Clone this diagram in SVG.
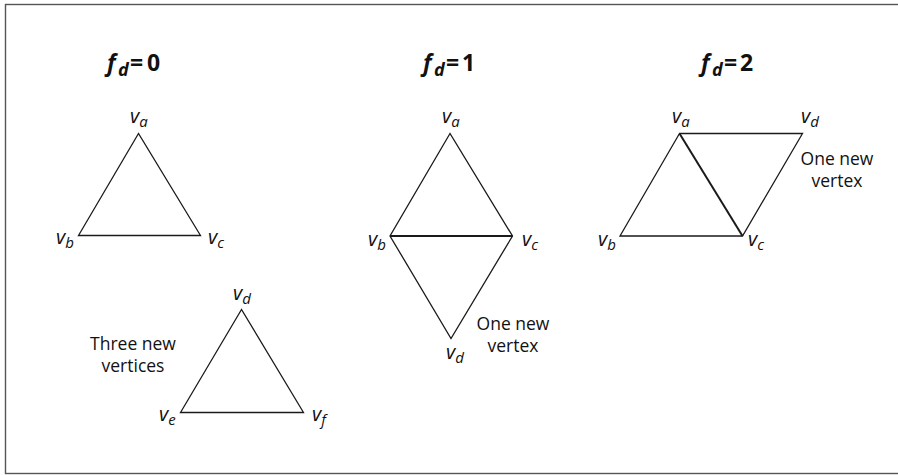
<svg xmlns="http://www.w3.org/2000/svg" width="898" height="475" viewBox="0 0 898 475">
<style>
.edge{fill:none;stroke:#1a1a1a;stroke-width:1.3;stroke-linejoin:miter}
.thick{stroke-width:2}
.title{font-family:"Open Sans","Liberation Sans",sans-serif;font-weight:bold;font-size:23px;fill:#111}
.it{font-style:italic}
.tsub{font-style:italic;font-size:18px}
.v{font-family:"Open Sans","Liberation Sans",sans-serif;font-style:italic;font-size:20px;fill:#111}
.sub{font-size:15px}
.note{font-family:"Open Sans","Liberation Sans",sans-serif;font-size:17.5px;fill:#111;text-anchor:middle}
</style>
<rect x="0" y="0" width="898" height="475" fill="#fff"/>
<rect x="5.5" y="4.5" width="900" height="469" fill="none" stroke="#555" stroke-width="1.4"/>

<g id="titles">
<text class="title" y="71"><tspan class="it" x="107">f</tspan><tspan class="tsub" x="118" dy="5">d</tspan><tspan x="130" dy="-5">=</tspan><tspan x="147">0</tspan></text>
<text class="title" y="71"><tspan class="it" x="423">f</tspan><tspan class="tsub" x="434" dy="5">d</tspan><tspan x="446" dy="-5">=</tspan><tspan x="462">1</tspan></text>
<text class="title" y="71"><tspan class="it" x="701">f</tspan><tspan class="tsub" x="712" dy="5">d</tspan><tspan x="724" dy="-5">=</tspan><tspan x="740">2</tspan></text>
</g>

<g id="connectors">
<path class="edge" d="M138.5,133.5 L78.5,235.5 L200.5,235.5 Z"/>
<path class="edge" d="M241.5,309.5 L180.5,412.5 L303.5,412.5 Z"/>
<path class="edge" d="M450,133.5 L390,236 L451,338.5 L512.5,236 Z"/>
<line class="edge thick" x1="390" y1="236" x2="512.5" y2="236"/>
<path class="edge" d="M679.5,133.5 L620,236 L742.5,236 L802.5,133.5 Z"/>
<line class="edge thick" x1="679.5" y1="133.5" x2="742.5" y2="236"/>
</g>

<g id="fd0">
<text class="v" x="130" y="123">v<tspan class="sub" dy="4">a</tspan></text>
<text class="v" x="56" y="244">v<tspan class="sub" dy="4">b</tspan></text>
<text class="v" x="208" y="244">v<tspan class="sub" dy="4">c</tspan></text>
</g>
<g id="fd0new">
<text class="v" x="233" y="300">v<tspan class="sub" dy="4">d</tspan></text>
<text class="v" x="159" y="421">v<tspan class="sub" dy="4">e</tspan></text>
<text class="v" x="312" y="421">v<tspan class="sub" dy="4">f</tspan></text>
<text class="note" x="133" y="350">Three new</text>
<text class="note" x="133" y="372">vertices</text>
</g>
<g id="fd1">
<text class="v" x="442" y="123">v<tspan class="sub" dy="4">a</tspan></text>
<text class="v" x="368" y="246">v<tspan class="sub" dy="4">b</tspan></text>
<text class="v" x="522" y="246">v<tspan class="sub" dy="4">c</tspan></text>
<text class="v" x="446" y="359">v<tspan class="sub" dy="4">d</tspan></text>
<text class="note" x="513" y="330">One new</text>
<text class="note" x="513" y="352">vertex</text>
</g>
<g id="fd2">
<text class="v" x="672" y="123">v<tspan class="sub" dy="4">a</tspan></text>
<text class="v" x="801" y="123">v<tspan class="sub" dy="4">d</tspan></text>
<text class="v" x="598" y="246">v<tspan class="sub" dy="4">b</tspan></text>
<text class="v" x="748" y="246">v<tspan class="sub" dy="4">c</tspan></text>
<text class="note" x="837" y="165">One new</text>
<text class="note" x="837" y="187">vertex</text>
</g>
</svg>
